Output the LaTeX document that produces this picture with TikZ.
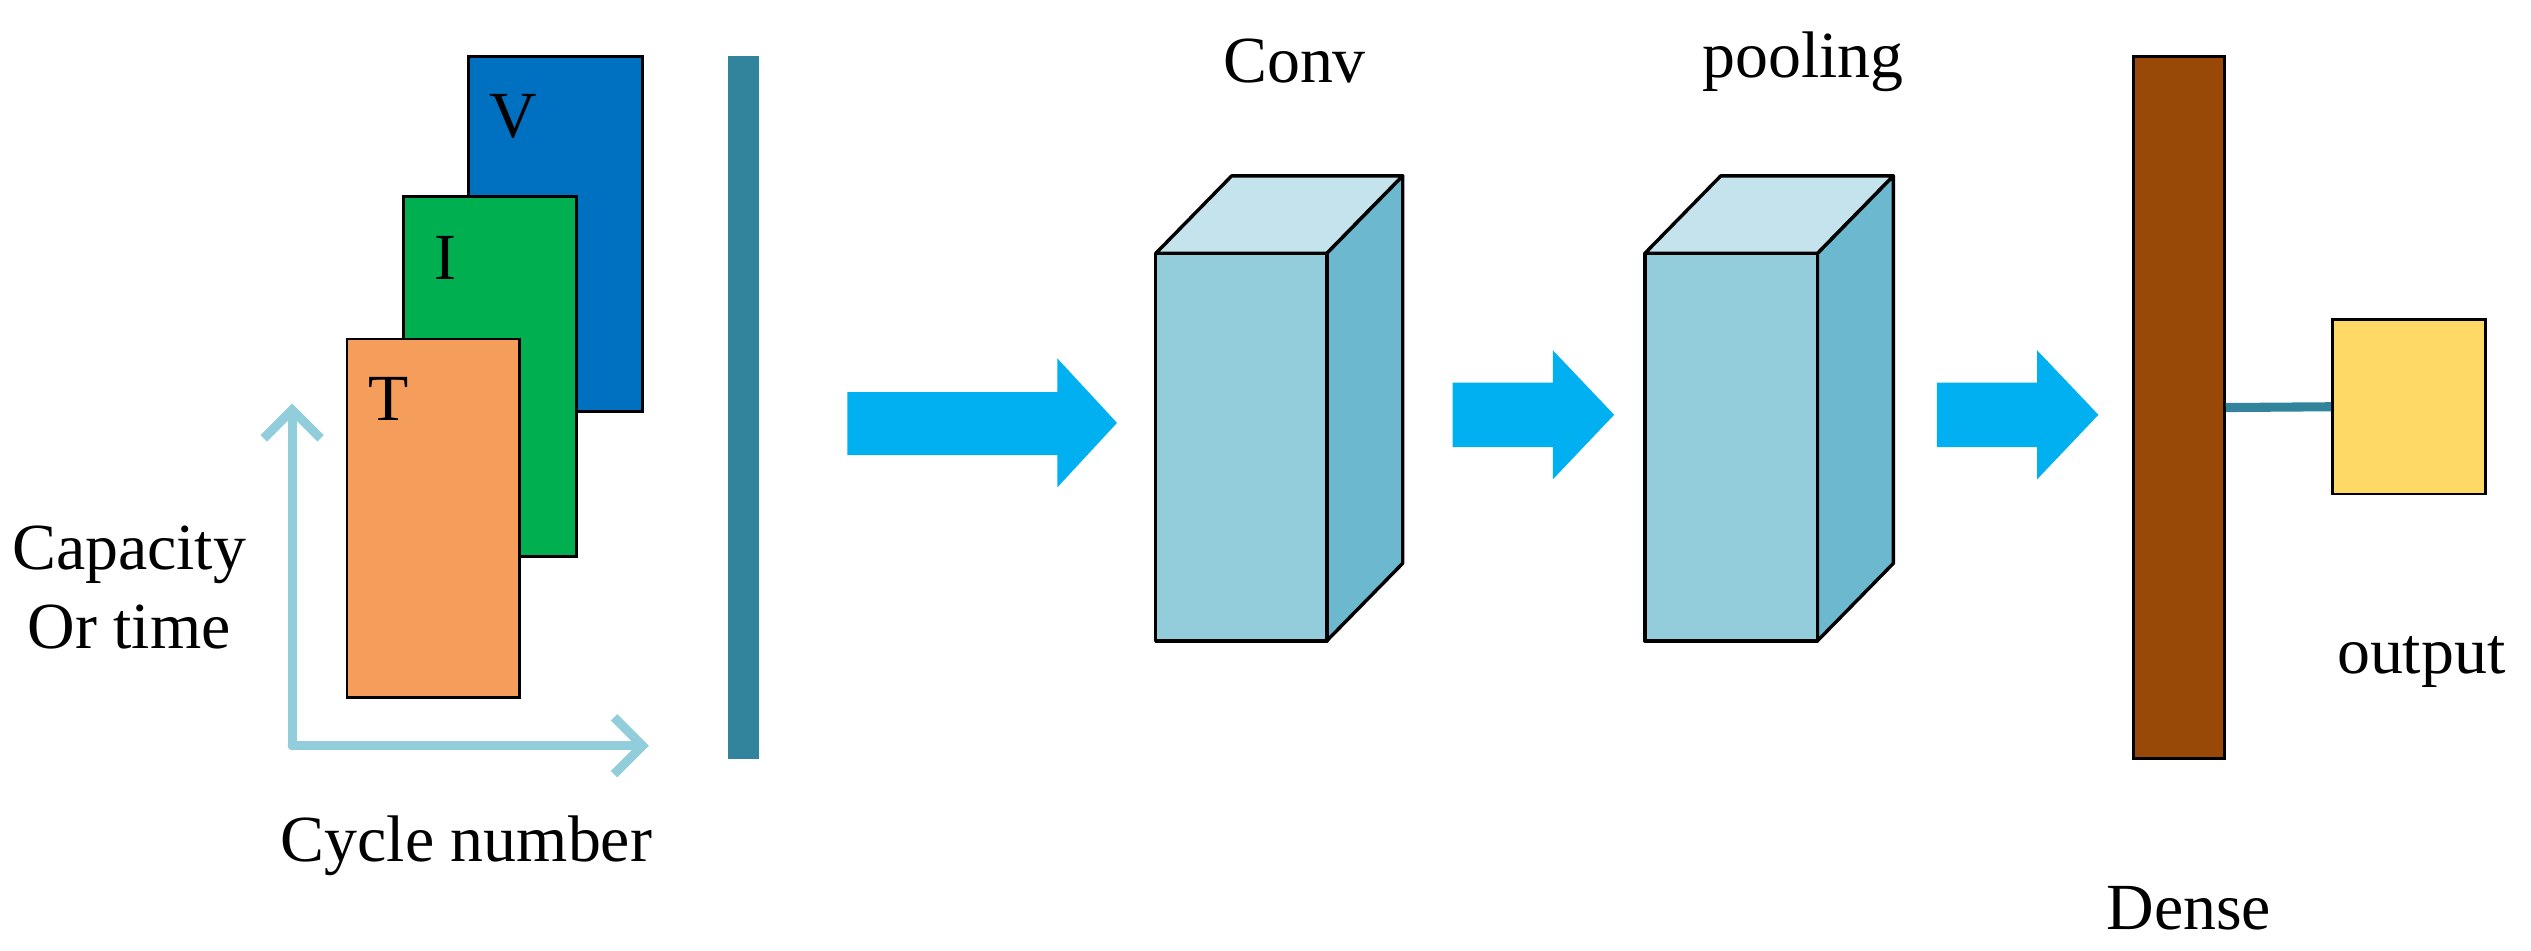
\documentclass[tikz,border=0pt]{standalone}
\usepackage{fontspec}
\setmainfont{Liberation Serif}
\usetikzlibrary{arrows.meta}
\definecolor{cV}{HTML}{0070C0}
\definecolor{cI}{HTML}{00B050}
\definecolor{cT}{HTML}{F59D5A}
\definecolor{axis}{HTML}{92CDDC}
\definecolor{teal}{HTML}{31849B}
\definecolor{blk}{HTML}{00B0F0}
\definecolor{front}{HTML}{93CDDC}
\definecolor{topc}{HTML}{C5E3EC}
\definecolor{side}{HTML}{6BB8CF}
\definecolor{dense}{HTML}{984807}
\definecolor{outc}{HTML}{FFD966}
\begin{document}
\begin{tikzpicture}[x=0.01cm,y=-0.01cm,
  lbl/.style={font=\fontsize{11.6pt}{14pt}\selectfont,inner sep=0},
  sheet/.style={draw=black,line width=0.5pt},
  blockarrow/.style={fill=blk,draw=none},
  cube/.style={draw=black,line width=0.6pt,line join=round}]
\useasboundingbox (0,0) rectangle (1568,589);
% sheets
\fill[sheet,fill=cV] (290,35) rectangle (398,255);
\node[lbl] (V) at (318,72) {V};
\fill[sheet,fill=cI] (250,122) rectangle (357,345);
\node[lbl] (I) at (276,160) {I};
\fill[sheet,fill=cT] (215,210) rectangle (322,432);
\node[lbl] (T) at (241,247) {T};
% axes
\coordinate (O) at (181,462);
\coordinate (Ytop) at (181,250);
\coordinate (Xend) at (402,462);
\draw[axis,line width=1.6pt,-{Straight Barb[length=5pt,width=10pt]},line cap=round] (O) -- (Ytop);
\draw[axis,line width=1.6pt,-{Straight Barb[length=5pt,width=10pt]},line cap=round] (O) -- (Xend);
\node[lbl,align=center] (cap) at (80,364) {Capacity\\Or time};
\node[lbl] (cyc) at (289,524) {Cycle number};
% input bar
\fill[teal] (451,35) rectangle (470,470);
% arrows
\fill[blockarrow] (525,243) -- (655,243) -- (655,222) -- (692,262) -- (655,302) -- (655,282) -- (525,282) -- cycle;
\fill[blockarrow] (900,237) -- (962,237) -- (962,217) -- (1000,257) -- (962,297) -- (962,277) -- (900,277) -- cycle;
\fill[blockarrow] (1200,237) -- (1262,237) -- (1262,217) -- (1300,257) -- (1262,297) -- (1262,277) -- (1200,277) -- cycle;
% conv cube
\filldraw[cube,fill=topc] (716,157) -- (763,109) -- (869,109) -- (822,157) -- cycle;
\filldraw[cube,fill=side] (822,157) -- (869,109) -- (869,349) -- (822,397) -- cycle;
\filldraw[cube,fill=front] (716,157) rectangle (822,397);
\node[lbl] (conv) at (802,38) {Conv};
% pooling cube
\filldraw[cube,fill=topc] (1019,157) -- (1066,109) -- (1173,109) -- (1126,157) -- cycle;
\filldraw[cube,fill=side] (1126,157) -- (1173,109) -- (1173,349) -- (1126,397) -- cycle;
\filldraw[cube,fill=front] (1019,157) rectangle (1126,397);
\node[lbl] (pool) at (1117,38) {pooling};
% dense
\node[draw=black,line width=0.5pt,fill=dense,minimum width=0.56cm,minimum height=4.35cm,inner sep=0] (D) at (1350,252.5) {};
\node[lbl] (dl) at (1356,563) {Dense};
% output
\node[draw=black,line width=0.5pt,fill=outc,minimum width=0.95cm,minimum height=1.08cm,inner sep=0] (out) at (1492.5,252) {};
\node[lbl] (ol) at (1500,410) {output};
\draw[teal,line width=1.6pt] (D.east) -- (out.west);
\end{tikzpicture}
\end{document}
